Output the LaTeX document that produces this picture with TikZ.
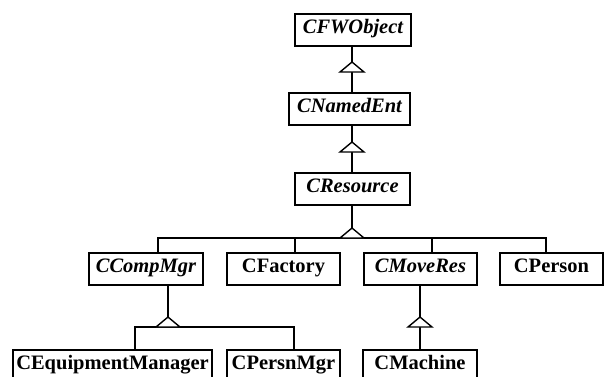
\documentclass[tikz,border=0pt]{standalone}
\usepackage{fontspec}
\setmainfont{Liberation Serif}
\usetikzlibrary{calc}
\begin{document}
\begin{tikzpicture}[x=1pt,y=-1pt,
  cls/.style={draw,line width=1.5pt,minimum height=32pt,inner sep=0pt,
    text height=12pt,text depth=5.4pt,
    font=\fontsize{20.5}{24}\selectfont\bfseries},
  abscls/.style={cls,font=\fontsize{20.5}{24}\selectfont\bfseries\itshape},
  conn/.style={line width=1.4pt},
  tri/.style={line width=1.4pt,fill=white,line join=miter}]
\clip (0,0) rectangle (604,376);
% classes
\node[abscls,minimum width=116pt] (fw) at (353,30) {CFWObject};
\node[abscls,minimum width=121pt] (nm) at (349.5,109) {CNamedEnt};
\node[abscls,minimum width=115pt] (res) at (352.5,189) {CResource};
\node[abscls,minimum width=114pt] (cm) at (146,269) {CCompMgr};
\node[cls,minimum width=113pt] (cf) at (283.5,269) {CFactory};
\node[abscls,minimum width=113pt] (mv) at (420.5,269) {CMoveRes};
\node[cls,minimum width=103pt] (cp) at (551.5,269) {CPerson};
\node[cls,minimum width=199pt] (eq) at (112.5,366) {CEquipmentManager};
\node[cls,minimum width=113pt] (pm) at (283.5,366) {CPersnMgr};
\node[cls,minimum width=114pt] (ma) at (420,366) {CMachine};
% CFWObject <- CNamedEnt
\coordinate (t1) at (352,72);
\draw[conn] (fw.south -| t1) -- (nm.north -| t1);
\draw[tri] ($(t1)+(-12,0)$) -- ($(t1)+(0,-10)$) -- ($(t1)+(12,0)$) -- cycle;
% CNamedEnt <- CResource
\coordinate (t2) at (352,152);
\draw[conn] (nm.south -| t2) -- (res.north -| t2);
\draw[tri] ($(t2)+(-12,0)$) -- ($(t2)+(0,-10)$) -- ($(t2)+(12,0)$) -- cycle;
% CResource <- children
\coordinate (bar) at (352,238);
\coordinate (d1) at (158,238);
\coordinate (d2) at (295,238);
\coordinate (d3) at (432,238);
\coordinate (d4) at (546,238);
\draw[conn] (res.south -| bar) -- (bar);
\draw[conn] (d1 |- cm.north) -- (d1) -- (d4) -- (d4 |- cp.north);
\draw[conn] (d2) -- (d2 |- cf.north);
\draw[conn] (d3) -- (d3 |- mv.north);
\draw[tri] ($(bar)+(-12,0)$) -- ($(bar)+(0,-10)$) -- ($(bar)+(12,0)$) -- cycle;
% CCompMgr <- children
\coordinate (b2) at (168,327);
\coordinate (e1) at (135,327);
\coordinate (e2) at (294,327);
\draw[conn] (cm.south -| b2) -- (b2);
\draw[conn] (e1 |- eq.north) -- (e1) -- (e2) -- (e2 |- pm.north);
\draw[tri] ($(b2)+(-12,0)$) -- ($(b2)+(0,-10)$) -- ($(b2)+(12,0)$) -- cycle;
% CMoveRes <- CMachine
\coordinate (t3) at (420,327);
\draw[conn] (mv.south -| t3) -- (ma.north -| t3);
\draw[tri] ($(t3)+(-12,0)$) -- ($(t3)+(0,-10)$) -- ($(t3)+(12,0)$) -- cycle;
\end{tikzpicture}
\end{document}
